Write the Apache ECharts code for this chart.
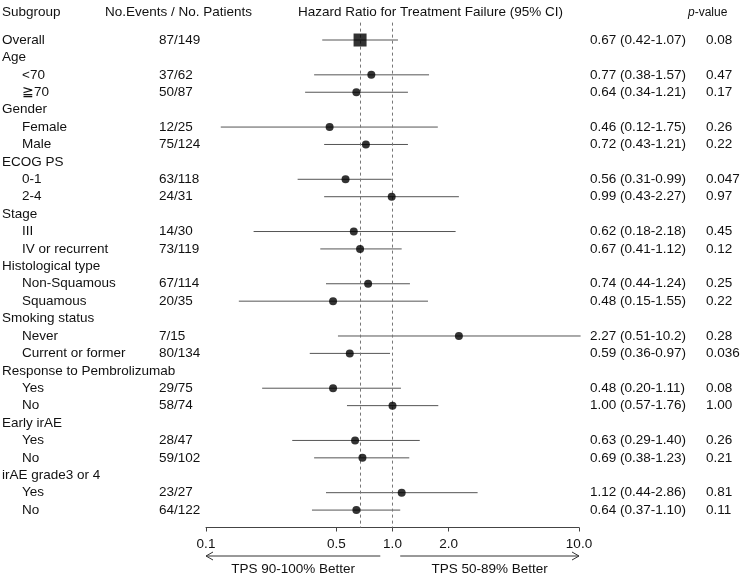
<!DOCTYPE html>
<html>
<head>
<meta charset="utf-8">
<script src="https://cdn.jsdelivr.net/npm/echarts@6/dist/echarts.min.js"></script>
<style>
  html, body { margin: 0; padding: 0; background: #fff; }
  #main { width: 740px; height: 574px; }
</style>
</head>
<body>
<div id="main"></div>
<script>
// rows of the forest plot, top to bottom (null = group heading)
var subgroups = ['Overall', 'Age', '<70', '≧70', 'Gender', 'Female', 'Male', 'ECOG PS', '0-1', '2-4',
  'Stage', 'III', 'IV or recurrent', 'Histological type', 'Non-Squamous', 'Squamous',
  'Smoking status', 'Never', 'Current or former', 'Response to Pembrolizumab', 'Yes', 'No',
  'Early irAE', 'Yes', 'No', 'irAE grade3 or 4', 'Yes', 'No'];
var events = ['87/149', null, '37/62', '50/87', null, '12/25', '75/124', null, '63/118', '24/31',
  null, '14/30', '73/119', null, '67/114', '20/35', null, '7/15', '80/134', null, '29/75', '58/74',
  null, '28/47', '59/102', null, '23/27', '64/122'];
var hr = [0.67, null, 0.77, 0.64, null, 0.46, 0.72, null, 0.56, 0.99, null, 0.62, 0.67, null, 0.74, 0.48,
  null, 2.27, 0.59, null, 0.48, 1.00, null, 0.63, 0.69, null, 1.12, 0.64];
var lower = [0.42, null, 0.38, 0.34, null, 0.12, 0.43, null, 0.31, 0.43, null, 0.18, 0.41, null, 0.44, 0.15,
  null, 0.51, 0.36, null, 0.20, 0.57, null, 0.29, 0.38, null, 0.44, 0.37];
var upper = [1.07, null, 1.57, 1.21, null, 1.75, 1.21, null, 0.99, 2.27, null, 2.18, 1.12, null, 1.24, 1.55,
  null, 10.2, 0.97, null, 1.11, 1.76, null, 1.40, 1.23, null, 2.86, 1.10];
var pvals = ['0.08', null, '0.47', '0.17', null, '0.26', '0.22', null, '0.047', '0.97', null, '0.45', '0.12',
  null, '0.25', '0.22', null, '0.28', '0.036', null, '0.08', '1.00', null, '0.26', '0.21', null, '0.81', '0.11'];
var tickValues = [0.1, 0.5, 1.0, 2.0, 10.0];
var refLines = [0.67, 1.0];

var chart = echarts.init(document.getElementById('main'));
var font = 'Liberation Sans, Arial, sans-serif';
var fs = 13.5;

var ciData = [], pointData = [];
hr.forEach(function (v, i) {
  if (v == null) return;
  ciData.push([lower[i], upper[i], i]);
  pointData.push({
    value: [v, i],
    symbol: i === 0 ? 'rect' : 'circle',
    symbolSize: i === 0 ? 13 : 8
  });
});

chart.setOption({
  animation: false,
  grid: { left: 206, right: 161, top: 22.6, bottom: 46.5 },
  xAxis: {
    type: 'log', logBase: 10, min: 0.1, max: 10,
    axisLine: { onZero: false, lineStyle: { color: '#444', width: 1 } },
    axisTick: { show: true, length: 4, customValues: tickValues, lineStyle: { color: '#444' } },
    axisLabel: {
      customValues: tickValues, margin: 10,
      fontFamily: font, fontSize: fs, color: '#111',
      formatter: function (v) { return Number(v).toFixed(1); }
    },
    splitLine: { show: false }, minorTick: { show: false }
  },
  yAxis: {
    type: 'value', min: -1, max: 28, inverse: true, show: false
  },
  series: [
    {
      type: 'custom',
      data: ciData,
      encode: { x: [0, 1], y: 2 },
      clip: false,
      renderItem: function (params, api) {
        var a = api.coord([api.value(0), api.value(2)]);
        var b = api.coord([api.value(1), api.value(2)]);
        return {
          type: 'line',
          shape: { x1: a[0], y1: a[1], x2: b[0], y2: b[1] },
          style: { stroke: '#555', lineWidth: 1 }
        };
      },
      markLine: {
        silent: true, symbol: 'none', label: { show: false },
        lineStyle: { color: '#777', type: [3, 3], width: 1 },
        data: refLines.map(function (v) { return { xAxis: v }; })
      }
    },
    {
      type: 'scatter',
      data: pointData,
      itemStyle: { color: '#000' },
      z: 5
    }
  ]
});

// text columns and arrows, positioned with the chart's own scales
var g = [];
function txt(x, y, s, extra) {
  var o = { type: 'text', x: x, y: y, style: { text: s, font: fs + 'px ' + font, fill: '#111', textVerticalAlign: 'middle' } };
  if (extra) Object.assign(o.style, extra);
  g.push(o);
}
txt(2, 12, 'Subgroup');
txt(105, 12, 'No.Events / No. Patients');
txt(298, 12, 'Hazard Ratio for Treatment Failure (95% CI)');
g.push({
  type: 'text', x: 688, y: 13,
  style: {
    text: '{p|p}-value', font: '12px ' + font, fill: '#111', textVerticalAlign: 'middle',
    rich: { p: { fontStyle: 'italic', fontFamily: font, fontSize: 12 } }
  }
});

subgroups.forEach(function (s, i) {
  var y = chart.convertToPixel({ yAxisIndex: 0 }, i);
  var item = hr[i] != null && i > 0;
  txt(item ? 22 : 2, y, s);
  if (events[i]) txt(159, y, events[i]);
  if (hr[i] != null) {
    txt(590, y, hr[i].toFixed(2) + ' (' + lower[i].toFixed(2) + '-' + (upper[i] >= 10 ? upper[i].toFixed(1) : upper[i].toFixed(2)) + ')');
    txt(706, y, pvals[i]);
  }
});

// arrows beneath the axis
var ay = 556;
function arrow(v0, v1, head) {
  var x0 = chart.convertToPixel({ xAxisIndex: 0 }, v0);
  var x1 = chart.convertToPixel({ xAxisIndex: 0 }, v1);
  g.push({ type: 'line', shape: { x1: x0, y1: ay, x2: x1, y2: ay }, style: { stroke: '#333', lineWidth: 1 } });
  var hx = head === 'left' ? x0 : x1;
  var d = head === 'left' ? 7 : -7;
  g.push({ type: 'polyline', shape: { points: [[hx + d, ay - 4], [hx, ay], [hx + d, ay + 4]] }, style: { stroke: '#333', lineWidth: 1, fill: null } });
  return (x0 + x1) / 2;
}
var cl = arrow(0.1, 0.86, 'left');
var cr = arrow(1.1, 10, 'right');
txt(cl, 569, 'TPS 90-100% Better', { textAlign: 'center' });
txt(cr, 569, 'TPS 50-89% Better', { textAlign: 'center' });

chart.setOption({ graphic: g });
</script>
</body>
</html>
